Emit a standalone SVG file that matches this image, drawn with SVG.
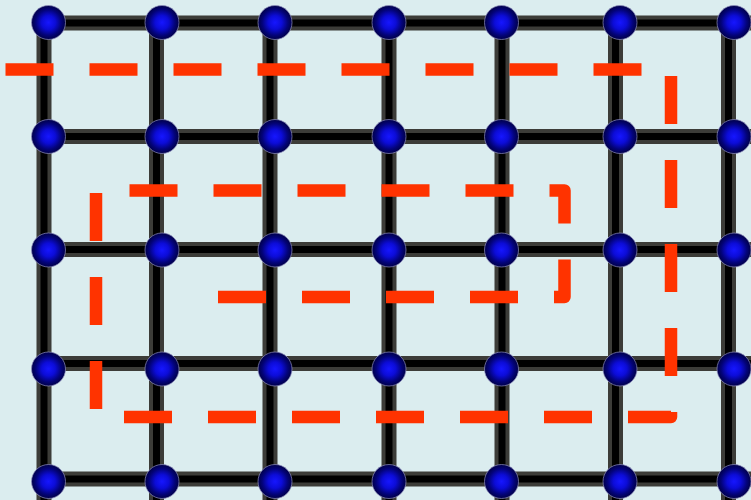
<svg xmlns="http://www.w3.org/2000/svg" width="751" height="500" viewBox="0 0 751 500">
<defs>
<radialGradient id="g" cx="0.5" cy="0.5" r="0.5">
<stop offset="0" stop-color="#1616ff"/>
<stop offset="0.4" stop-color="#0c0cd8"/>
<stop offset="0.75" stop-color="#03037a"/>
<stop offset="1" stop-color="#000048"/>
</radialGradient>
</defs>
<style>
.edge{stroke:#3c3c38;stroke-width:15;fill:none}
.core{stroke:#000;stroke-width:7;fill:none}
.dot{fill:url(#g);stroke:#8e8ec0;stroke-width:1;stroke-opacity:0.7}
.route{fill:none;stroke:#ff3300;stroke-width:12.5;stroke-dasharray:48 36;stroke-linejoin:round}
</style>
<rect width="751" height="500" fill="#dbedef"/>
<g id="connectors">
<path class="edge" d="M44 23H751M44 136.5H751M44 249.5H751M44 363.5H751M44 479H751M44 23V500M156.5 23V500M270 23V500M389 23V500M502 23V500M615.5 23V500M728.5 23V500"/>
<path class="core" d="M44 23H751M44 136.5H751M44 249.5H751M44 363.5H751M44 479H751M44 23V500M156.5 23V500M270 23V500M389 23V500M502 23V500M615.5 23V500M728.5 23V500"/>
</g>
<g id="nodes">
<g id="n1-1"><circle class="dot" cx="48.5" cy="22.5" r="17"/></g>
<g id="n1-2"><circle class="dot" cx="162" cy="22.5" r="17"/></g>
<g id="n1-3"><circle class="dot" cx="275" cy="22.5" r="17"/></g>
<g id="n1-4"><circle class="dot" cx="389" cy="22.5" r="17"/></g>
<g id="n1-5"><circle class="dot" cx="501.5" cy="22.5" r="17"/></g>
<g id="n1-6"><circle class="dot" cx="620" cy="22.5" r="17"/></g>
<g id="n1-7"><circle class="dot" cx="734" cy="22.5" r="17"/></g>
<g id="n2-1"><circle class="dot" cx="48.5" cy="136.5" r="17"/></g>
<g id="n2-2"><circle class="dot" cx="162" cy="136.5" r="17"/></g>
<g id="n2-3"><circle class="dot" cx="275" cy="136.5" r="17"/></g>
<g id="n2-4"><circle class="dot" cx="389" cy="136.5" r="17"/></g>
<g id="n2-5"><circle class="dot" cx="501.5" cy="136.5" r="17"/></g>
<g id="n2-6"><circle class="dot" cx="620" cy="136.5" r="17"/></g>
<g id="n2-7"><circle class="dot" cx="734" cy="136.5" r="17"/></g>
<g id="n3-1"><circle class="dot" cx="48.5" cy="250" r="17"/></g>
<g id="n3-2"><circle class="dot" cx="162" cy="250" r="17"/></g>
<g id="n3-3"><circle class="dot" cx="275" cy="250" r="17"/></g>
<g id="n3-4"><circle class="dot" cx="389" cy="250" r="17"/></g>
<g id="n3-5"><circle class="dot" cx="501.5" cy="250" r="17"/></g>
<g id="n3-6"><circle class="dot" cx="620" cy="250" r="17"/></g>
<g id="n3-7"><circle class="dot" cx="734" cy="250" r="17"/></g>
<g id="n4-1"><circle class="dot" cx="48.5" cy="369" r="17"/></g>
<g id="n4-2"><circle class="dot" cx="162" cy="369" r="17"/></g>
<g id="n4-3"><circle class="dot" cx="275" cy="369" r="17"/></g>
<g id="n4-4"><circle class="dot" cx="389" cy="369" r="17"/></g>
<g id="n4-5"><circle class="dot" cx="501.5" cy="369" r="17"/></g>
<g id="n4-6"><circle class="dot" cx="620" cy="369" r="17"/></g>
<g id="n4-7"><circle class="dot" cx="734" cy="369" r="17"/></g>
<g id="n5-1"><circle class="dot" cx="48.5" cy="481.5" r="17"/></g>
<g id="n5-2"><circle class="dot" cx="162" cy="481.5" r="17"/></g>
<g id="n5-3"><circle class="dot" cx="275" cy="481.5" r="17"/></g>
<g id="n5-4"><circle class="dot" cx="389" cy="481.5" r="17"/></g>
<g id="n5-5"><circle class="dot" cx="501.5" cy="481.5" r="17"/></g>
<g id="n5-6"><circle class="dot" cx="620" cy="481.5" r="17"/></g>
<g id="n5-7"><circle class="dot" cx="734" cy="481.5" r="17"/></g>
</g>
<g id="route">
<path class="route" d="M5.5 69.5H671V417H96V190.5H564.5V297H217.5"/>
</g>
</svg>
